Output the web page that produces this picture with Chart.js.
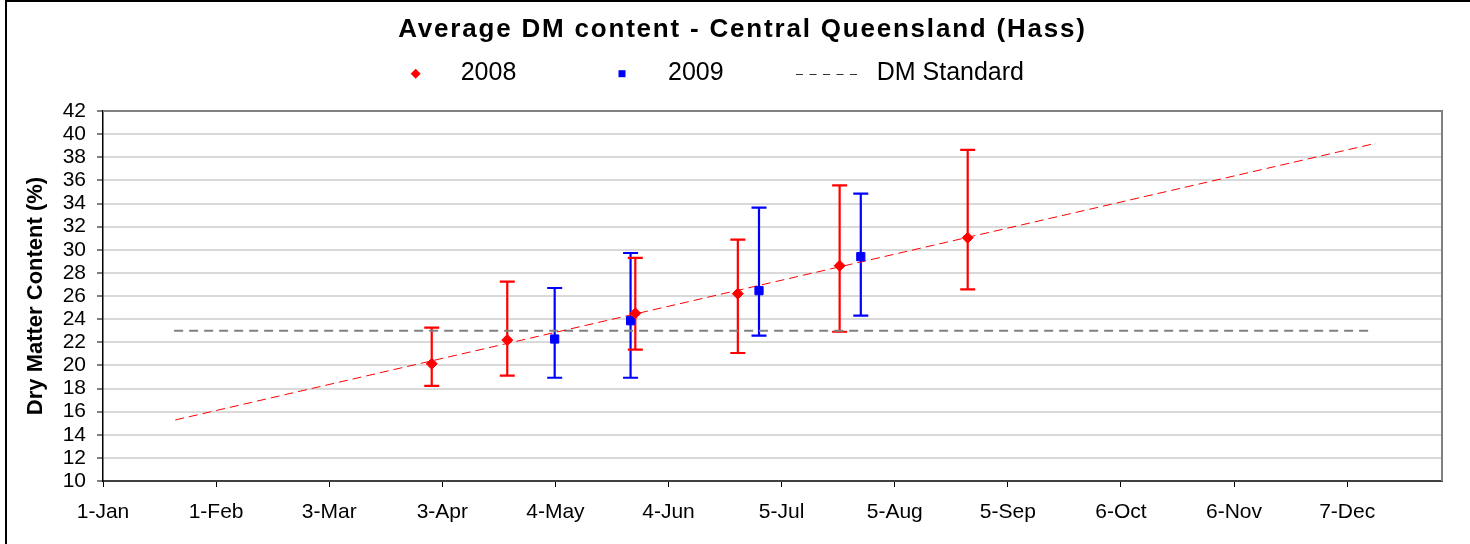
<!DOCTYPE html>
<html><head><meta charset="utf-8">
<script src="https://cdn.jsdelivr.net/npm/chart.js@4"></script>
<style>html,body{margin:0;padding:0;background:#fff}#wrap{width:1470px;height:544px;position:relative}canvas{display:block}</style>
</head><body><div id="wrap"><canvas id="c" width="1470" height="544"></canvas></div>
<script>
const titleText = 'Average DM content - Central Queensland (Hass)';
const yAxisTitle = 'Dry Matter Content (%)';
const seriesNames = ['2008', '2009', 'DM Standard'];
const xTickDays = [0, 31, 62, 93, 124, 155, 186, 217, 248, 279, 310, 341];
const xTickLabels = ['1-Jan', '1-Feb', '3-Mar', '3-Apr', '4-May', '4-Jun', '5-Jul', '5-Aug', '5-Sep', '6-Oct', '6-Nov', '7-Dec'];
const days2008 = [90.1, 110.8, 145.9, 174.0, 201.9, 237.0];
const dm2008 = [20.14, 22.19, 24.5, 26.2, 28.62, 31.04];
const low2008 = [18.22, 19.11, 21.36, 21.07, 22.91, 26.58];
const high2008 = [23.26, 27.24, 29.29, 30.87, 35.57, 38.63];
const days2009 = [123.8, 144.6, 179.8, 207.7];
const dm2009 = [22.28, 23.86, 26.46, 29.4];
const low2009 = [18.93, 18.93, 22.57, 24.3];
const high2009 = [26.69, 29.72, 33.64, 34.85];
const trendDays = [19.8, 348.9];
const trendDM = [15.28, 39.21];
const stdDays = [19.5, 347];
const stdDM = [23, 23];

const FONT = "'Liberation Sans', Arial, sans-serif";
const RED = '#ff0000', BLUE = '#0000ff', GREY = '#808080';

const toXY = (xs, ys) => xs.map((x, i) => ({x: x, y: ys[i]}));

const titlePatch = {
  id: 'titlePatch',
  beforeDraw(chart) {
    const tb = chart.titleBlock;
    if (tb && !tb.__patched) {
      const orig = tb.draw;
      tb.draw = function () {
        const ctx = this.ctx;
        ctx.save();
        ctx.letterSpacing = '1.8px';
        ctx.translate(742.5 - (this.left + this.right) / 2, 0);
        orig.apply(this, arguments);
        ctx.restore();
      };
      tb.__patched = true;
    }
  }
};

const errorBars = {
  id: 'errorBars',
  beforeDatasetsDraw(chart) {
    const ctx = chart.ctx, xs = chart.scales.x, ys = chart.scales.y;
    [1, 0].forEach(di => {
      const ds = chart.data.datasets[di];
      ctx.save();
      ctx.strokeStyle = ds.borderColor;
      ctx.lineWidth = 2.2;
      ds.data.forEach((p, i) => {
        const x = xs.getPixelForValue(p.x);
        const yl = ys.getPixelForValue(ds.errLow[i]);
        const yh = ys.getPixelForValue(ds.errHigh[i]);
        ctx.beginPath();
        ctx.moveTo(x, yl); ctx.lineTo(x, yh);
        ctx.moveTo(x - 7.5, yl); ctx.lineTo(x + 7.5, yl);
        ctx.moveTo(x - 7.5, yh); ctx.lineTo(x + 7.5, yh);
        ctx.stroke();
      });
      ctx.restore();
    });
  }
};

const frame = {
  id: 'frame',
  afterDraw(chart) {
    const ctx = chart.ctx, a = chart.chartArea;
    ctx.save();
    ctx.strokeStyle = GREY;
    ctx.lineWidth = 2;
    ctx.beginPath();
    ctx.moveTo(a.left, a.top); ctx.lineTo(a.right, a.top); ctx.lineTo(a.right, a.bottom);
    ctx.stroke();
    ctx.strokeStyle = '#000';
    ctx.beginPath();
    ctx.moveTo(6, 0); ctx.lineTo(6, 544);
    ctx.moveTo(5, 1); ctx.lineTo(1470, 1);
    ctx.stroke();
    ctx.restore();
  }
};

const customLegend = {
  id: 'customLegend',
  afterDraw(chart) {
    const ctx = chart.ctx, ds = chart.data.datasets;
    const my = 73.7, ty = 79.5;
    ctx.save();
    ctx.font = '25px ' + FONT;
    ctx.fillStyle = '#000';
    ctx.textBaseline = 'alphabetic';
    ctx.textAlign = 'left';
    // 2008 diamond
    ctx.fillStyle = ds[0].backgroundColor;
    ctx.beginPath();
    ctx.moveTo(415.7 - 5, my); ctx.lineTo(415.7, my - 5); ctx.lineTo(415.7 + 5, my); ctx.lineTo(415.7, my + 5);
    ctx.closePath(); ctx.fill();
    ctx.fillStyle = '#000';
    ctx.fillText(ds[0].label, 460.7, ty);
    // 2009 square
    ctx.fillStyle = ds[1].backgroundColor;
    ctx.fillRect(622 - 3.5, my - 3.5, 7, 7);
    ctx.fillStyle = '#000';
    ctx.fillText(ds[1].label, 668, ty);
    // DM Standard dashed line
    ctx.strokeStyle = '#333';
    ctx.lineWidth = 1;
    ctx.setLineDash([7, 6.5]);
    ctx.beginPath();
    ctx.moveTo(796, 74.5); ctx.lineTo(863, 74.5);
    ctx.stroke();
    ctx.setLineDash([]);
    ctx.fillText(ds[3].label, 876.7, ty);
    ctx.restore();
  }
};

new Chart(document.getElementById('c'), {
  type: 'scatter',
  data: {
    datasets: [
      {label: seriesNames[0], data: toXY(days2008, dm2008), errLow: low2008, errHigh: high2008,
       pointStyle: 'rectRot', pointRadius: 5.5, backgroundColor: RED, borderColor: RED, borderWidth: 1, showLine: false, order: 0},
      {label: seriesNames[1], data: toXY(days2009, dm2009), errLow: low2009, errHigh: high2009,
       pointStyle: 'rect', pointRadius: 5.8, backgroundColor: BLUE, borderColor: BLUE, borderWidth: 1, showLine: false, order: 1},
      {label: 'Linear (2008)', data: toXY(trendDays, trendDM), showLine: true, borderColor: RED, backgroundColor: RED,
       borderWidth: 1, borderDash: [9, 5], pointRadius: 0, order: 2},
      {label: seriesNames[2], data: toXY(stdDays, stdDM), showLine: true, borderColor: GREY, backgroundColor: GREY,
       borderWidth: 2, borderDash: [9, 6], pointRadius: 0, order: 3}
    ]
  },
  options: {
    responsive: false,
    animation: false,
    devicePixelRatio: 1,
    layout: {padding: {left: 0, right: 28, top: 0, bottom: 0}},
    plugins: {
      legend: {display: false},
      tooltip: {enabled: false},
      title: {display: true, text: titleText, color: '#000',
        font: {family: FONT, size: 26, weight: 'bold', lineHeight: 1.2},
        padding: {top: 14, bottom: 65.8}}
    },
    scales: {
      x: {
        type: 'linear', min: 0, max: 367,
        afterBuildTicks: s => { s.ticks = xTickDays.map(v => ({value: v})); },
        afterFit: s => { s.height = 63; },
        ticks: {autoSkip: false, maxRotation: 0, minRotation: 0, padding: 13, color: '#000',
          font: {family: FONT, size: 21},
          callback: v => xTickLabels[xTickDays.indexOf(v)]},
        grid: {drawOnChartArea: false, drawTicks: true, tickLength: 6, tickColor: '#000', tickWidth: 1, color: '#000'},
        border: {display: true, color: '#404040', width: 2}
      },
      y: {
        min: 10, max: 42,
        afterFit: s => { s.width = 103; },
        ticks: {stepSize: 2, autoSkip: false, padding: 11, color: '#000', font: {family: FONT, size: 21}},
        grid: {color: '#d9d9d9', lineWidth: 2, tickLength: 6, tickColor: '#000', tickWidth: 1},
        border: {display: true, color: '#000', width: 1.5},
        title: {display: true, text: yAxisTitle, color: '#000',
          font: {family: FONT, size: 22, weight: 'bold', lineHeight: 1.2},
          padding: {top: 23, bottom: 0}}
      }
    }
  },
  plugins: [titlePatch, errorBars, frame, customLegend]
});
</script>
</body></html>
